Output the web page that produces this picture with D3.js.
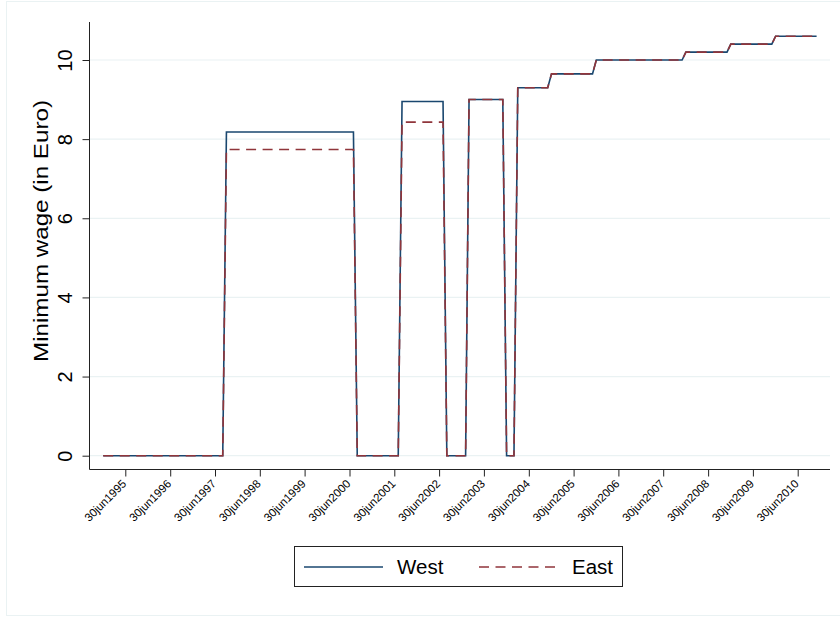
<!DOCTYPE html>
<html lang="en">
<head>
    <meta charset="UTF-8">
    <title>Minimum wage West / East</title>
    <script src="https://d3js.org/d3.v7.min.js"></script>
    <style>
        body { margin: 0; background: white; }
        text { font-family: "Liberation Sans", Arial, Helvetica, sans-serif; }
    </style>
</head>
<body>
    <svg id="svg1" height="617" width="840" style="background: white"></svg>

    <script>
        // data ----------------------------------------------------------------------------
        // periods with a constant wage (first and last month of each period)
        const periodStart = ["1995-01", "1997-10", "2000-09", "2001-09", "2002-09", "2003-03", "2004-01",
                             "2004-04", "2005-01", "2006-01", "2008-01", "2009-01", "2010-01"];
        const periodEnd   = ["1997-09", "2000-08", "2001-08", "2002-08", "2003-02", "2003-12", "2004-03",
                             "2004-12", "2005-12", "2007-12", "2008-12", "2009-12", "2010-12"];
        const westWage = [0, 8.18, 0, 8.95, 0, 9.00, 0, 9.30, 9.65, 10.00, 10.20, 10.40, 10.60];
        const eastWage = [0, 7.74, 0, 8.43, 0, 9.00, 0, 9.30, 9.65, 10.00, 10.20, 10.40, 10.60];

        const tickYears = [1995, 1996, 1997, 1998, 1999, 2000, 2001, 2002,
                           2003, 2004, 2005, 2006, 2007, 2008, 2009, 2010];
        const yTicks = [0, 2, 4, 6, 8, 10];
        const seriesNames = ["West", "East"];

        // setup ---------------------------------------------------------------------------
        const svg = d3.select("svg#svg1");
        const plot = {left: 89.5, right: 830, top: 22, bottom: 469.5};
        const navy = "#1a476f", maroon = "#90353b", grid = "#eaf2f3";

        // outer graph region border
        svg.append("rect")
            .attr("x", 6.5).attr("y", 1.5)
            .attr("width", 840).attr("height", 614)
            .attr("fill", "none")
            .attr("stroke", grid);

        const parseMonth = d3.timeParse("%Y-%m");

        // x: tick at 30jun1995 -> 125.3, 30jun2010 -> 797.7
        const xBase = d3.scaleTime()
            .domain([new Date(1995, 5, 30), new Date(2010, 5, 30)])
            .range([125.3, 797.7]);
        const xScale = xBase.copy()
            .domain([xBase.invert(plot.left), xBase.invert(plot.right)])
            .range([plot.left, plot.right]);

        const yScale = d3.scaleLinear().domain([0, 10]).range([455.7, 60]);

        // grid lines
        svg.append("g").selectAll("line")
            .data(yTicks)
            .join("line")
            .attr("x1", plot.left).attr("x2", plot.right)
            .attr("y1", d => yScale(d)).attr("y2", d => yScale(d))
            .attr("stroke", grid).attr("stroke-width", 1.2);

        // axes ----------------------------------------------------------------------------
        const yAxis = d3.axisLeft(yScale).tickValues(yTicks).tickSize(7);
        const gy = svg.append("g")
            .attr("transform", `translate(${plot.left}, 0)`)
            .call(yAxis);
        gy.select(".domain").remove();
        gy.append("line")
            .attr("x1", 0).attr("x2", 0)
            .attr("y1", plot.top).attr("y2", plot.bottom)
            .attr("stroke", "#222");
        gy.selectAll(".tick line").attr("stroke", "#222");
        gy.selectAll(".tick text")
            .attr("font-size", 20)
            .attr("fill", "#000")
            .attr("text-anchor", "middle")
            .attr("x", 0).attr("y", 0).attr("dy", "0")
            .attr("transform", "translate(-17.5, 0) rotate(-90)")
            .attr("font-family", "Liberation Sans, Arial, sans-serif");

        const xTickDates = tickYears.map(y => new Date(y, 5, 30));
        const xAxis = d3.axisBottom(xScale)
            .tickValues(xTickDates)
            .tickSize(7)
            .tickFormat(d => "30jun" + d.getFullYear());
        const gx = svg.append("g")
            .attr("transform", `translate(0, ${plot.bottom})`)
            .call(xAxis);
        gx.select(".domain").attr("stroke", "#222").attr("d", `M${plot.left},0H${plot.right}`);
        gx.selectAll(".tick line").attr("stroke", "#222");
        gx.selectAll(".tick text")
            .attr("font-size", 11.5)
            .attr("fill", "#000")
            .attr("text-anchor", "end")
            .attr("y", 0).attr("dy", "0.35em")
            .attr("transform", "translate(-1.5, 12) rotate(-45)")
            .attr("font-family", "Liberation Sans, Arial, sans-serif");

        // axis title
        svg.append("text")
            .text("Minimum wage (in Euro)")
            .attr("transform", "translate(48, 231) rotate(-90)")
            .attr("text-anchor", "middle")
            .attr("font-size", 21)
            .attr("textLength", 262)
            .attr("lengthAdjust", "spacingAndGlyphs");

        // lines ---------------------------------------------------------------------------
        function stepPoints(values) {
            const pts = [];
            values.forEach((v, i) => {
                pts.push([parseMonth(periodStart[i]), v]);
                pts.push([parseMonth(periodEnd[i]), v]);
            });
            return pts;
        }
        const line = d3.line().x(d => xScale(d[0])).y(d => yScale(d[1]));

        svg.append("path")
            .attr("d", line(stepPoints(westWage)))
            .attr("fill", "none").attr("stroke", navy).attr("stroke-width", 1.6);
        svg.append("path")
            .attr("d", line(stepPoints(eastWage)))
            .attr("fill", "none").attr("stroke", maroon).attr("stroke-width", 1.6)
            .attr("stroke-dasharray", "10,6.5");

        // legend --------------------------------------------------------------------------
        const legend = svg.append("g");
        legend.append("rect")
            .attr("x", 294.5).attr("y", 546.5).attr("width", 328).attr("height", 40)
            .attr("fill", "white").attr("stroke", "#222");
        const legendX = [304, 479];
        seriesNames.forEach((name, i) => {
            legend.append("line")
                .attr("x1", legendX[i]).attr("x2", legendX[i] + 79)
                .attr("y1", 567).attr("y2", 567)
                .attr("stroke", i === 0 ? navy : maroon).attr("stroke-width", 1.6)
                .attr("stroke-dasharray", i === 0 ? null : "10,6.5");
            legend.append("text")
                .text(name)
                .attr("x", legendX[i] + 93).attr("y", 567).attr("dy", "0.36em")
                .attr("font-size", 20.5);
        });
    </script>
</body>
</html>
